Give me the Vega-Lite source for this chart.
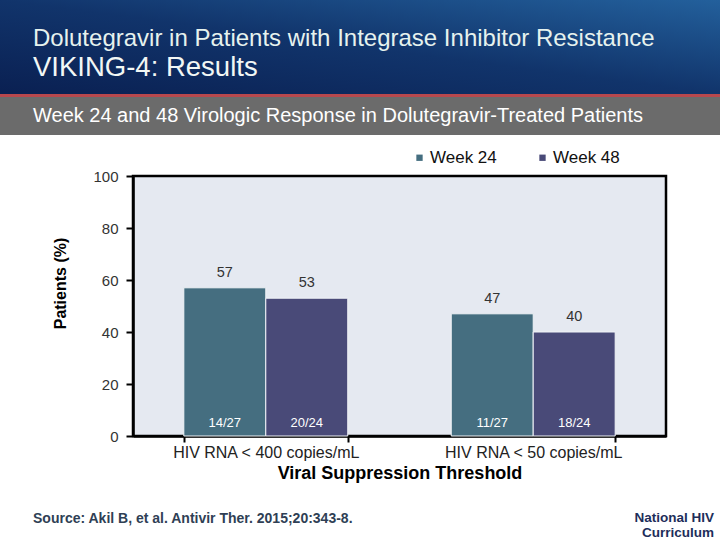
{
  "$schema": "https://vega.github.io/schema/vega-lite/v6.json",
  "padding": 0,
  "background": "white",
  "bounds": "flush",
  "spacing": 0,
  "config": {"view": {"stroke": null}, "font": "Liberation Sans"},
  "vconcat": [
    {
      "width": 720, "height": 94,
      "data": {"values": [{"band": "header"}]},
      "mark": {"type": "rect", "color": {"gradient": "linear", "x1": 0, "y1": 1, "x2": 1, "y2": 0, "stops": [{"offset": 0, "color": "#0a2052"}, {"offset": 0.5, "color": "#11346b"}, {"offset": 1, "color": "#23609c"}]}},
      "title": {"text": "Dolutegravir in Patients with Integrase Inhibitor Resistance", "subtitle": "VIKING-4: Results", "orient": "top", "anchor": "start", "frame": "group", "offset": -81, "dx": 33, "font": "Liberation Sans", "fontSize": 24, "fontWeight": "normal", "color": "#e6f2ee", "subtitleFont": "Liberation Sans", "subtitleFontSize": 27.5, "subtitleColor": "#f2f7f5", "subtitlePadding": 3}
    },
    {
      "width": 720, "height": 3,
      "data": {"values": [{"band": "rule"}]},
      "mark": {"type": "rect", "color": "#b8484d"}
    },
    {
      "width": 720, "height": 38,
      "data": {"values": [{"band": "subtitle"}]},
      "mark": {"type": "rect", "color": "#6b6b6b"},
      "title": {"text": "Week 24 and 48 Virologic Response in Dolutegravir-Treated Patients", "orient": "top", "anchor": "start", "frame": "group", "offset": -29, "dx": 33, "font": "Liberation Sans", "fontSize": 20, "fontWeight": "normal", "color": "#ffffff"}
    },
    {
      "width": 720, "height": 41,
      "data": {"values": [{"band": "gap"}]},
      "mark": {"type": "rect", "opacity": 0}
    },
    {
      "bounds": "flush",
      "spacing": 0,
      "hconcat": [
        {
          "width": 133, "height": 260,
          "data": {"values": [{"band": "spacer"}]},
          "mark": {"type": "rect", "opacity": 0},
          "title": {"text": "Source: Akil B, et al. Antivir Ther. 2015;20:343-8.", "orient": "bottom", "anchor": "start", "frame": "group", "offset": 76, "dx": 33, "font": "Liberation Sans", "fontSize": 14, "fontWeight": "bold", "color": "#2f3f55", "limit": 400}
        },
        {
          "width": 533, "height": 260,
          "view": {"fill": "#e5e9f1", "stroke": "#000000", "strokeWidth": 2.5},
          "title": {"text": "National HIV", "subtitle": "Curriculum", "orient": "bottom", "anchor": "end", "frame": "group", "offset": 29, "dx": 48, "font": "Liberation Sans", "fontSize": 13.5, "fontWeight": "bold", "color": "#1d2e5a", "subtitleFont": "Liberation Sans", "subtitleFontSize": 13.5, "subtitleFontWeight": "bold", "subtitleColor": "#1d2e5a", "subtitlePadding": 1},
          "data": {"values": [
            {"threshold": "HIV RNA < 400 copies/mL", "week": "Week 24", "pct": 57, "frac": "14/27"},
            {"threshold": "HIV RNA < 400 copies/mL", "week": "Week 48", "pct": 53, "frac": "20/24"},
            {"threshold": "HIV RNA < 50 copies/mL", "week": "Week 24", "pct": 47, "frac": "11/27"},
            {"threshold": "HIV RNA < 50 copies/mL", "week": "Week 48", "pct": 40, "frac": "18/24"}
          ]},
          "encoding": {
            "x": {"field": "threshold", "type": "nominal", "sort": null, "title": "Viral Suppression Threshold",
              "scale": {"paddingInner": 0.387, "paddingOuter": 0.19},
              "axis": {"labelAngle": 0, "labelLimit": 300, "tickBand": "extent", "domainColor": "#000000", "domainWidth": 2.5, "tickColor": "#000000", "tickWidth": 2, "tickSize": 6, "labelFontSize": 16, "labelColor": "#222222", "labelPadding": 2, "titleFontSize": 18, "titleFontWeight": "bold", "titleColor": "#000000", "titlePadding": 4, "labelFont": "Liberation Sans", "titleFont": "Liberation Sans"}},
            "xOffset": {"field": "week", "type": "nominal", "sort": null},
            "y": {"field": "pct", "type": "quantitative", "title": "Patients (%)",
              "scale": {"domain": [0, 100], "nice": false},
              "axis": {"values": [0, 20, 40, 60, 80, 100], "grid": false, "domainColor": "#000000", "domainWidth": 2.5, "tickColor": "#000000", "tickWidth": 2, "tickSize": 7, "labelFontSize": 15, "labelColor": "#333333", "labelPadding": 8, "titleFontSize": 16, "titleFontWeight": "bold", "titleColor": "#000000", "titleX": -73, "titleY": 107, "titleBaseline": "middle", "labelFont": "Liberation Sans", "titleFont": "Liberation Sans"}}
          },
          "layer": [
            {
              "mark": {"type": "bar", "stroke": "#f0f3f7", "strokeWidth": 1},
              "encoding": {
                "color": {"field": "week", "type": "nominal", "title": null,
                  "scale": {"domain": ["Week 24", "Week 48"], "range": ["#456e80", "#494a78"]},
                  "legend": {"orient": "none", "legendX": 411, "legendY": 149, "direction": "horizontal", "symbolType": "square", "symbolSize": 40, "symbolStrokeWidth": 0, "labelFontSize": 17, "labelColor": "#111111", "labelFont": "Liberation Sans", "columnPadding": 37, "labelOffset": 2}}
              }
            },
            {
              "mark": {"type": "text", "baseline": "bottom", "dy": -8, "fontSize": 14.5, "color": "#333333", "font": "Liberation Sans"},
              "encoding": {"text": {"field": "pct", "type": "quantitative"}}
            },
            {
              "mark": {"type": "text", "baseline": "middle", "dy": -13, "fontSize": 13, "color": "#ffffff", "font": "Liberation Sans"},
              "encoding": {"y": {"datum": 0}, "text": {"field": "frac", "type": "nominal"}}
            }
          ]
        }
      ]
    }
  ]
}
